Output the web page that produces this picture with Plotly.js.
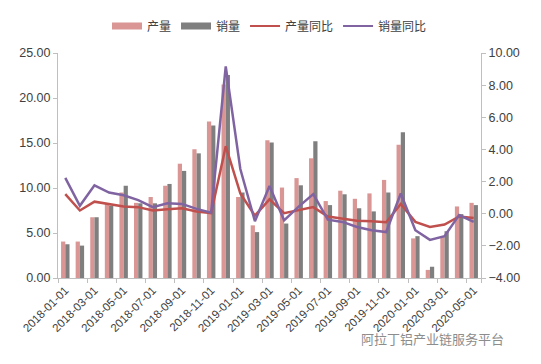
<!DOCTYPE html>
<html>
<head>
<meta charset="utf-8">
<script src="https://cdn.plot.ly/plotly-3.0.1.min.js"></script>
<style>
html,body{margin:0;padding:0;background:#fff;}
#chart{width:541px;height:364px;}
</style>
</head>
<body>
<div id="chart"></div>
<script>
var dates = ["2018-01-01","2018-02-01","2018-03-01","2018-04-01","2018-05-01","2018-06-01","2018-07-01","2018-08-01","2018-09-01","2018-10-01","2018-11-01","2018-12-01",
             "2019-01-01","2019-02-01","2019-03-01","2019-04-01","2019-05-01","2019-06-01","2019-07-01","2019-08-01","2019-09-01","2019-10-01","2019-11-01","2019-12-01",
             "2020-01-01","2020-02-01","2020-03-01","2020-04-01","2020-05-01"];
var production = [4.05, 4.05, 6.75, 8.3, 9.5, 8.35, 9.0, 10.25, 12.7, 14.3, 17.4, 21.5,
                  9.0, 5.85, 15.3, 10.05, 11.1, 13.3, 8.55, 9.7, 8.8, 9.4, 10.9, 14.8,
                  4.4, 0.9, 4.6, 7.95, 8.35];
var sales = [3.75, 3.6, 6.75, 8.05, 10.25, 8.3, 8.3, 10.45, 11.9, 13.85, 16.95, 22.55,
             9.5, 5.1, 15.05, 6.05, 10.3, 15.2, 8.1, 9.3, 7.75, 7.4, 9.5, 16.2,
             4.65, 1.25, 5.2, 7.1, 8.1];
var productionYoY = [1.22, 0.2, 0.75, 0.59, 0.45, 0.41, 0.2, 0.28, 0.34, 0.14, 0.03, 4.2,
                     1.26, -0.12, 0.89, 0.03, 0.24, 0.41, -0.17, -0.29, -0.43, -0.47, -0.53, 0.61,
                     -0.51, -0.82, -0.67, -0.17, -0.27];
var salesYoY = [2.23, 0.49, 1.77, 1.32, 1.15, 0.85, 0.41, 0.65, 0.61, 0.3, 0.07, 9.17,
                2.78, -0.47, 1.72, -0.41, 0.44, 1.22, -0.37, -0.51, -0.83, -1.03, -1.14, 1.26,
                -1.03, -1.63, -1.4, -0.09, -0.51];
var seriesNames = ["产量", "销量", "产量同比", "销量同比"];
var tickLabels = dates.filter(function(d, i){ return i % 2 === 0; });
var watermark = "阿拉丁铝产业链服务平台";

var FONT = "'Liberation Sans', 'Noto Sans CJK SC', sans-serif";
var C_PROD = '#D99694', C_SALES = '#7F7F7F', C_PY = '#C0504D', C_SY = '#8064A2';
var traces = [
  {type:'bar', x:dates, y:production, name:seriesNames[0], marker:{color:C_PROD}, yaxis:'y', showlegend:false},
  {type:'bar', x:dates, y:sales, name:seriesNames[1], marker:{color:C_SALES}, yaxis:'y', showlegend:false},
  {type:'scatter', mode:'lines', x:dates, y:productionYoY, name:seriesNames[2], line:{color:C_PY, width:2.5}, yaxis:'y2', showlegend:false},
  {type:'scatter', mode:'lines', x:dates, y:salesYoY, name:seriesNames[3], line:{color:C_SY, width:2.5}, yaxis:'y2', showlegend:false},
  // legend-only entries (Excel-style wide swatches)
  {type:'scatter', mode:'lines', x:[null], y:[null], name:seriesNames[0], line:{color:C_PROD, width:7}, yaxis:'y2', hoverinfo:'skip'},
  {type:'scatter', mode:'lines', x:[null], y:[null], name:seriesNames[1], line:{color:C_SALES, width:7}, yaxis:'y2', hoverinfo:'skip'},
  {type:'scatter', mode:'lines', x:[null], y:[null], name:seriesNames[2], line:{color:C_PY, width:2}, yaxis:'y2', hoverinfo:'skip'},
  {type:'scatter', mode:'lines', x:[null], y:[null], name:seriesNames[3], line:{color:C_SY, width:2}, yaxis:'y2', hoverinfo:'skip'}
];
var layout = {
  width:541, height:364,
  margin:{l:58, r:60, t:48, b:86},
  paper_bgcolor:'#fff', plot_bgcolor:'#fff',
  font:{family:FONT, size:11, color:'#404040'},
  barmode:'group', bargap:0.42, bargroupgap:0,
  showlegend:true,
  legend:{orientation:'h', x:0.5, xanchor:'center', y:1.12, yanchor:'middle',
          font:{size:12, color:'#404040'}, itemwidth:30, traceorder:'normal'},
  xaxis:{type:'category', tickvals:tickLabels, ticktext:tickLabels, tickangle:-45,
         showline:true, linecolor:'#BFBFBF', linewidth:1, ticks:'outside', tickson:'boundaries',
         tickcolor:'#BFBFBF', ticklen:4, showgrid:false, zeroline:false,
         tickfont:{size:11.5, color:'#404040'}},
  yaxis:{range:[0,25], dtick:5, tickformat:'.2f', showline:true, linecolor:'#BFBFBF',
         ticks:'outside', tickcolor:'#BFBFBF', ticklen:4, showgrid:false, zeroline:false,
         tickfont:{size:12.5, color:'#404040'}},
  yaxis2:{range:[-4,10], dtick:2, tickformat:'.2f', overlaying:'y', side:'right',
          showline:true, linecolor:'#BFBFBF', ticks:'outside', tickcolor:'#BFBFBF', ticklen:4,
          showgrid:false, zeroline:false, tickfont:{size:12.5, color:'#404040'}},
  annotations:[{text:watermark, xref:'paper', yref:'paper', x:1.06, y:-0.27,
                xanchor:'right', yanchor:'middle', showarrow:false,
                font:{size:13, color:'#8C8C8C', family:"'Noto Sans CJK SC', sans-serif"}}]
};
Plotly.newPlot('chart', traces, layout, {displayModeBar:false, staticPlot:true});
</script>
</body>
</html>
